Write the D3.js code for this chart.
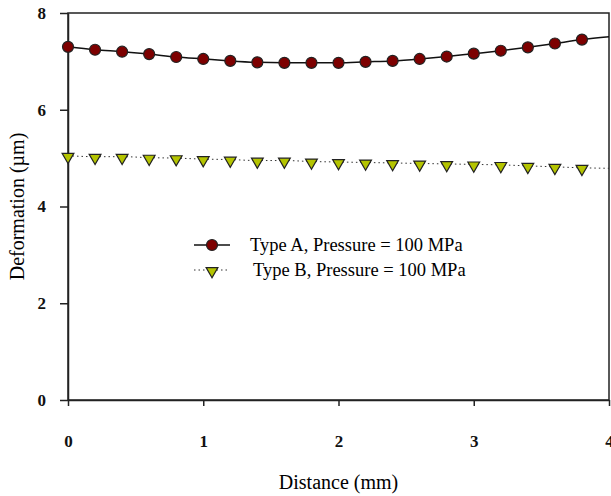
<html>
  <head>
    <script src="https://cdn.jsdelivr.net/npm/d3@7"></script>
  </head>
  <body>
    <style>
      body{
        margin: 0;
        padding: 0;
        background-color: white;
      }
      text{
        font-family: "Liberation Serif", "Times New Roman", serif;
      }
      .tick text{
        font-weight: bold;
        font-size: 17px;
      }
    </style>
    <div id="chart"></div>
    <script>
      // distance (mm); the last point only carries the line, no marker
      var distance = [0, 0.2, 0.4, 0.6, 0.8, 1.0, 1.2, 1.4, 1.6, 1.8, 2.0,
                      2.2, 2.4, 2.6, 2.8, 3.0, 3.2, 3.4, 3.6, 3.8, 4.0];
      var typeA = [7.30, 7.24, 7.20, 7.15, 7.09, 7.05, 7.01, 6.98, 6.97, 6.97, 6.97,
                   6.99, 7.01, 7.05, 7.10, 7.16, 7.22, 7.29, 7.37, 7.45, 7.51];
      var typeB = [5.05, 5.03, 5.03, 5.01, 5.00, 4.98, 4.97, 4.95, 4.95, 4.93, 4.92,
                   4.91, 4.90, 4.89, 4.88, 4.87, 4.86, 4.84, 4.82, 4.80, 4.79];
      var xTicks = [0, 1, 2, 3, 4];
      var yTicks = [0, 2, 4, 6, 8];
      var seriesNames = ["Type A, Pressure = 100 MPa", "Type B, Pressure = 100 MPa"];

      (function(){
        var width = 611, height = 496;
        var pl = 68, pr = 609, pt = 13, pb = 400;

        var svg = d3.select("#chart").append("svg")
          .attr("width", width)
          .attr("height", height);

        var x = d3.scaleLinear().domain([0, 4]).range([pl, pr]);
        var y = d3.scaleLinear().domain([0, 8]).range([pb, pt]);

        // frame
        svg.append("rect")
          .attr("x", pl).attr("y", pt)
          .attr("width", pr - pl).attr("height", pb - pt)
          .attr("fill", "none").attr("stroke", "#222").attr("stroke-width", 1.5);

        var xAxis = svg.append("g")
          .attr("transform", "translate(0," + pb + ")")
          .call(d3.axisBottom(x).tickValues(xTicks).tickFormat(d3.format("d"))
            .tickSizeInner(6).tickSizeOuter(0).tickPadding(29));
        xAxis.select(".domain").attr("stroke", "#222").attr("stroke-width", 1.5);
        xAxis.selectAll(".tick line").attr("stroke", "#222").attr("stroke-width", 1.5);
        xAxis.selectAll(".tick text").attr("fill", "#111");

        var yAxis = svg.append("g")
          .attr("transform", "translate(" + pl + ",0)")
          .call(d3.axisLeft(y).tickValues(yTicks).tickFormat(d3.format("d"))
            .tickSizeInner(8).tickSizeOuter(0).tickPadding(14));
        yAxis.select(".domain").attr("stroke", "#222").attr("stroke-width", 1.5);
        yAxis.selectAll(".tick line").attr("stroke", "#222").attr("stroke-width", 1.5);
        yAxis.selectAll(".tick text").attr("fill", "#111");

        // axis titles
        svg.append("text")
          .attr("x", (pl + pr) / 2).attr("y", 489)
          .attr("text-anchor", "middle")
          .style("font-size", "20px")
          .text("Distance (mm)");
        svg.append("text")
          .attr("transform", "translate(24," + (pt + pb) / 2 + ") rotate(-90)")
          .attr("text-anchor", "middle")
          .style("font-size", "20px")
          .text("Deformation (µm)");

        var rows = distance.map(function(d, i){
          return {x: d, a: typeA[i], b: typeB[i]};
        });
        var marked = rows.filter(function(d){ return d.x < 4; });

        var lineA = d3.line().x(function(d){ return x(d.x); }).y(function(d){ return y(d.a); })
          .curve(d3.curveMonotoneX);
        var lineB = d3.line().x(function(d){ return x(d.x); }).y(function(d){ return y(d.b); })
          .curve(d3.curveMonotoneX);

        svg.append("path").attr("d", lineB(rows))
          .attr("fill", "none").attr("stroke", "#333").attr("stroke-width", 1)
          .attr("stroke-dasharray", "1.5,3");
        svg.append("path").attr("d", lineA(rows))
          .attr("fill", "none").attr("stroke", "#111").attr("stroke-width", 1.5);

        var tri = d3.symbol().type(d3.symbolTriangle).size(60);

        svg.selectAll(".mb").data(marked).enter().append("path")
          .attr("class", "mb")
          .attr("d", tri)
          .attr("transform", function(d){ return "translate(" + x(d.x) + "," + (y(d.b) + 1) + ") rotate(180)"; })
          .attr("fill", "#b4c400").attr("stroke", "#222").attr("stroke-width", 1.2);

        svg.selectAll(".ma").data(marked).enter().append("circle")
          .attr("class", "ma")
          .attr("cx", function(d){ return x(d.x); })
          .attr("cy", function(d){ return y(d.a); })
          .attr("r", 5.5)
          .attr("fill", "#7d0000").attr("stroke", "#222").attr("stroke-width", 1.2);

        // legend
        var lg = svg.append("g").attr("transform", "translate(194,245)");
        lg.append("line").attr("x1", 0).attr("x2", 36).attr("y1", 0).attr("y2", 0)
          .attr("stroke", "#111").attr("stroke-width", 1.5);
        lg.append("circle").attr("cx", 18).attr("cy", 0).attr("r", 5.5)
          .attr("fill", "#7d0000").attr("stroke", "#222").attr("stroke-width", 1.2);
        lg.append("text").attr("x", 56).attr("y", 6).style("font-size", "18.5px").text(seriesNames[0]);

        lg.append("line").attr("x1", 0).attr("x2", 36).attr("y1", 25).attr("y2", 25)
          .attr("stroke", "#333").attr("stroke-width", 1).attr("stroke-dasharray", "1.5,3");
        lg.append("path").attr("d", tri)
          .attr("transform", "translate(18,26) rotate(180)")
          .attr("fill", "#b4c400").attr("stroke", "#222").attr("stroke-width", 1.2);
        lg.append("text").attr("x", 59).attr("y", 31).style("font-size", "18.5px").text(seriesNames[1]);
      })();
    </script>
  </body>
</html>
